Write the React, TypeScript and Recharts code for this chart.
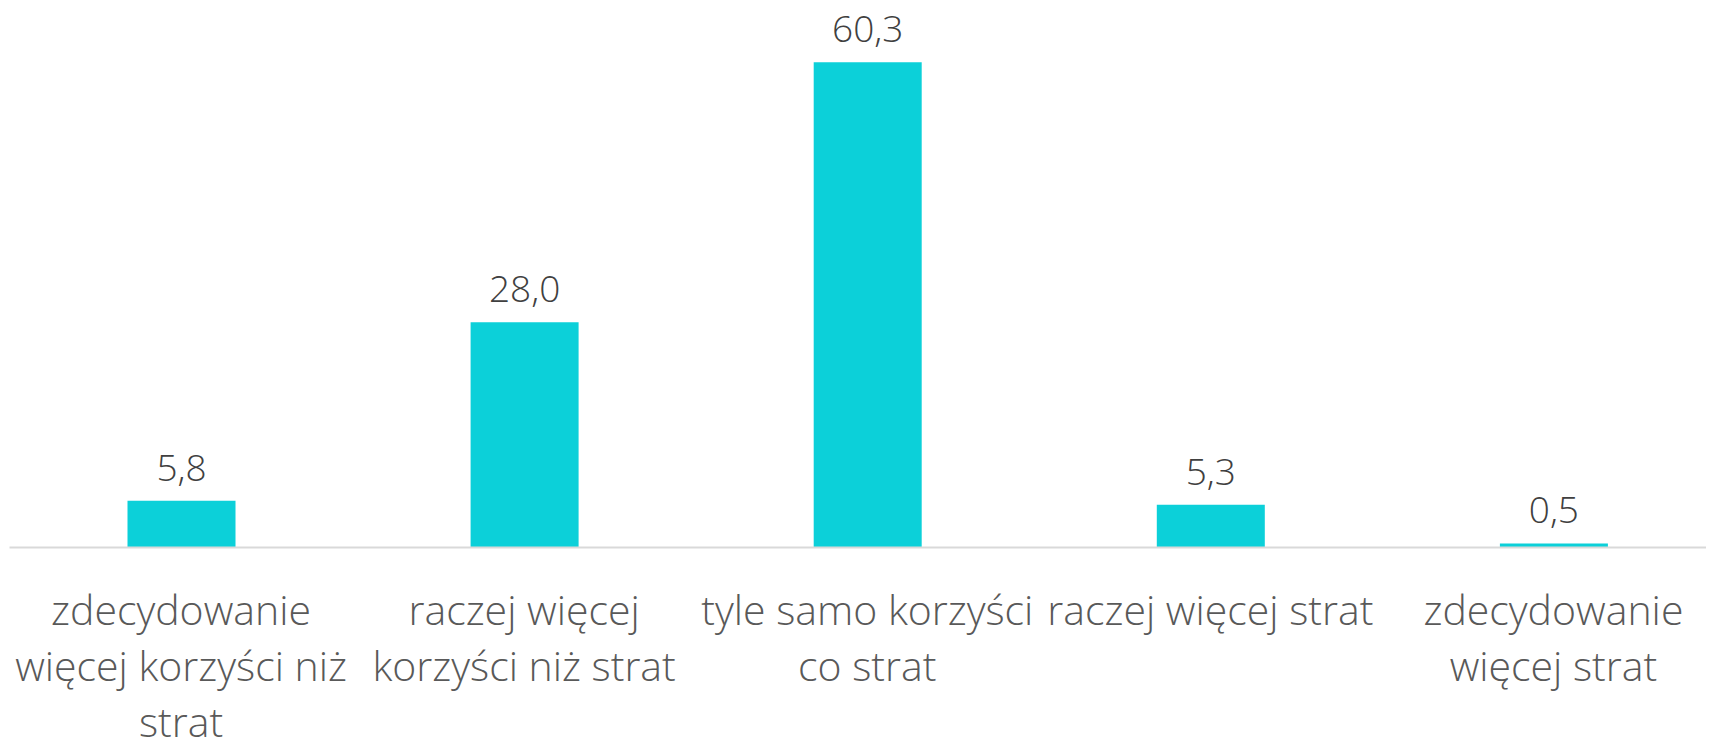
import React from 'react';
import { BarChart, Bar, XAxis, YAxis, LabelList } from 'recharts';

const categories = [
  'zdecydowanie więcej korzyści niż strat',
  'raczej więcej korzyści niż strat',
  'tyle samo korzyści co strat',
  'raczej więcej strat',
  'zdecydowanie więcej strat',
];
const values = [5.8, 28.0, 60.3, 5.3, 0.5];

const data = categories.map((name, i) => ({ name, value: values[i] }));

const FONT = '"Open Sans", "Noto Sans", sans-serif';
const TICK_SIZE = 41;
const WRAP = 345;

const fmt = (v: any) => Number(v).toFixed(1).replace('.', ',');

let ctx: CanvasRenderingContext2D | null = null;
const measure = (s: string) => {
  if (!ctx) {
    const c = document.createElement('canvas');
    ctx = c.getContext('2d');
  }
  if (!ctx) return s.length * TICK_SIZE * 0.5;
  ctx.font = `300 ${TICK_SIZE}px ${FONT}`;
  return ctx.measureText(s).width;
};

const wrap = (s: string) => {
  const words = s.split(' ');
  const lines: string[] = [];
  let cur = '';
  for (const w of words) {
    const cand = cur ? cur + ' ' + w : w;
    if (cur && measure(cand) > WRAP) {
      lines.push(cur);
      cur = w;
    } else cur = cand;
  }
  if (cur) lines.push(cur);
  return lines;
};

const Tick = (props: any) => {
  const { x, y, payload } = props;
  const lines = wrap(String(payload.value));
  return (
    <text
      x={x}
      y={y + 69}
      textAnchor="middle"
      fill="#595959"
      style={{ fontSize: TICK_SIZE, fontFamily: FONT, fontWeight: 300 }}
    >
      {lines.map((l, i) => (
        <tspan key={i} x={x} dy={i === 0 ? 0 : 56}>
          {l}
        </tspan>
      ))}
    </text>
  );
};

export default function App() {
  return (
    <div style={{ width: 1706, height: 733, overflow: 'hidden', position: 'relative' }}>
      <BarChart
        width={1717}
        height={733}
        data={data}
        margin={{ top: 16.5, right: 0, left: 1.5, bottom: 0 }}
        barSize={108}
      >
        <YAxis hide domain={[0, 65]} />
        <XAxis
          dataKey="name"
          height={193.5}
          interval={0}
          tickLine={false}
          axisLine={{ stroke: '#d9d9d9', strokeWidth: 2 }}
          tick={<Tick />}
        />
        <Bar dataKey="value" fill="#0cd0d9" isAnimationActive={false}>
          <LabelList
            dataKey="value"
            position="top"
            offset={20}
            formatter={fmt}
            fill="#404040"
            style={{ fontSize: 37, fontFamily: FONT, fontWeight: 300 }}
          />
        </Bar>
      </BarChart>
    </div>
  );
}
